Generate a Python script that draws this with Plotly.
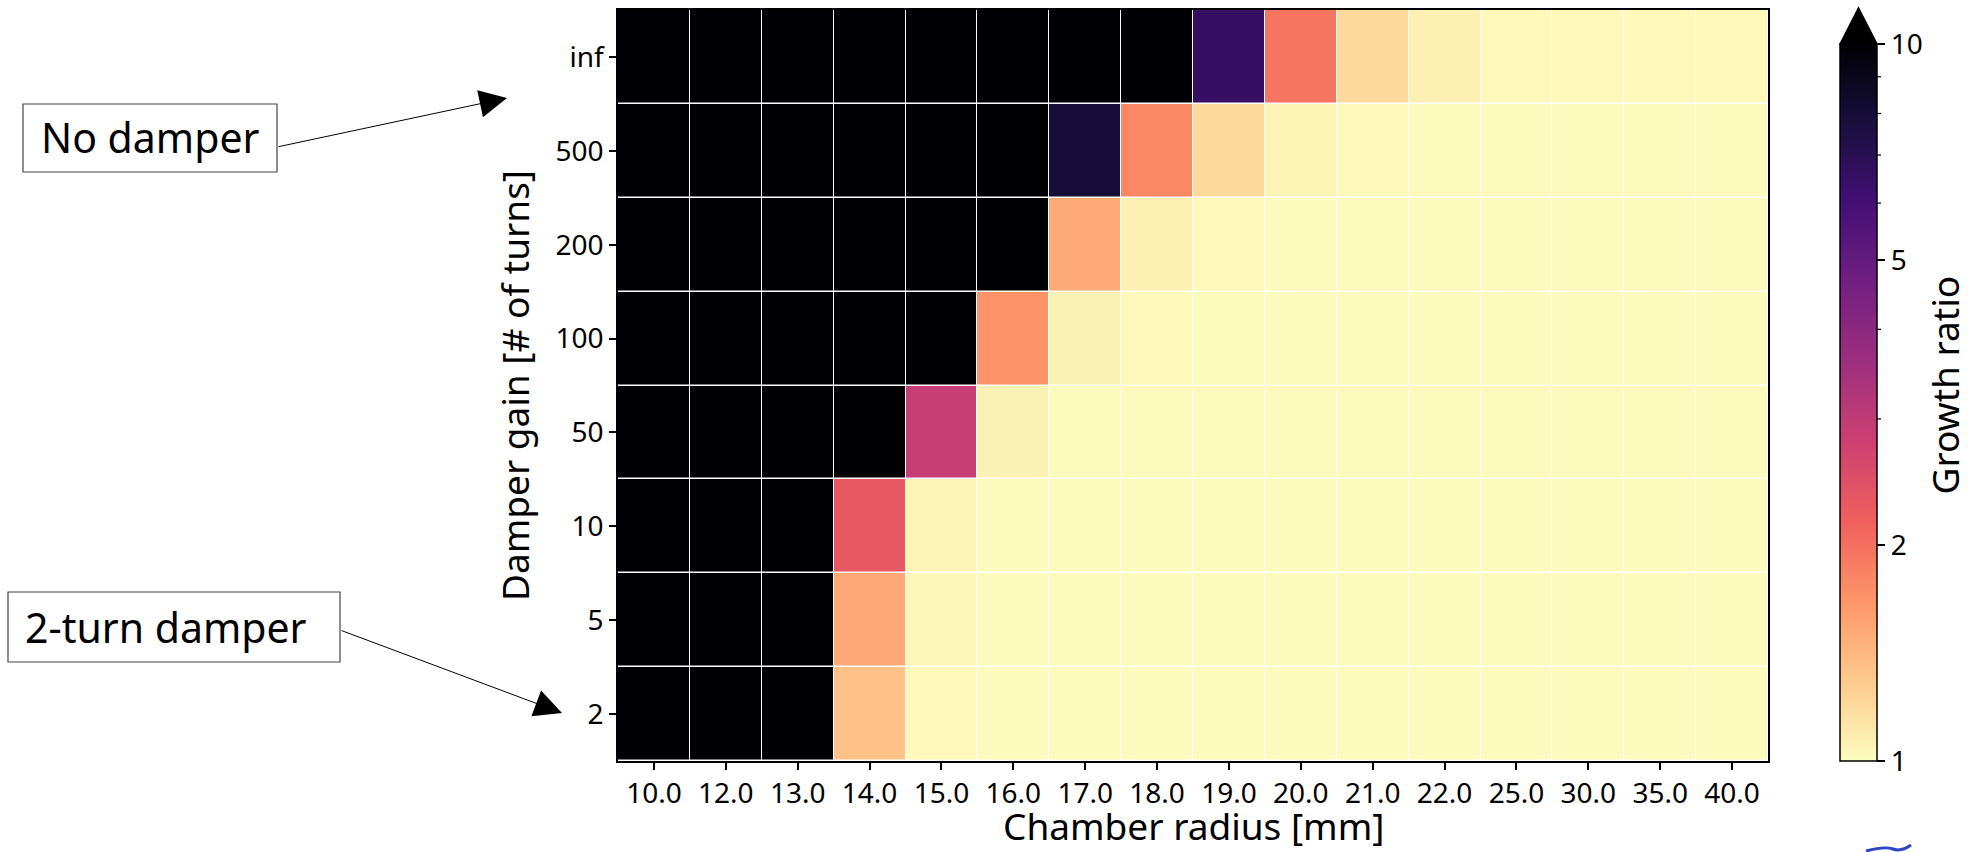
import numpy as np
import plotly.graph_objects as go

# ---------------- data ----------------
chamber_radius = ['10.0', '12.0', '13.0', '14.0', '15.0', '16.0', '17.0', '18.0',
                  '19.0', '20.0', '21.0', '22.0', '25.0', '30.0', '35.0', '40.0']
damper_gain = ['2', '5', '10', '50', '100', '200', '500', 'inf']

# growth ratio per damper gain (columns follow chamber_radius); >10 shown saturated
growth_gain_2 = [20, 20, 20, 1.35, 1.02, 1.01, 1.01, 1.01, 1.01, 1.01, 1.01, 1.01, 1.01, 1.01, 1.01, 1.01]
growth_gain_5 = [20, 20, 20, 1.52, 1.03, 1.01, 1.01, 1.01, 1.01, 1.01, 1.01, 1.01, 1.01, 1.01, 1.01, 1.01]
growth_gain_10 = [20, 20, 20, 2.3, 1.04, 1.01, 1.01, 1.01, 1.01, 1.01, 1.01, 1.01, 1.01, 1.01, 1.01, 1.01]
growth_gain_50 = [20, 20, 20, 20, 2.9, 1.06, 1.01, 1.01, 1.01, 1.01, 1.01, 1.01, 1.01, 1.01, 1.01, 1.01]
growth_gain_100 = [20, 20, 20, 20, 20, 1.7, 1.06, 1.02, 1.01, 1.01, 1.01, 1.01, 1.01, 1.01, 1.01, 1.01]
growth_gain_200 = [20, 20, 20, 20, 20, 20, 1.51, 1.07, 1.02, 1.01, 1.01, 1.01, 1.01, 1.01, 1.01, 1.01]
growth_gain_500 = [20, 20, 20, 20, 20, 20, 7.9, 1.78, 1.2, 1.05, 1.02, 1.01, 1.01, 1.01, 1.01, 1.01]
growth_gain_inf = [20, 20, 20, 20, 20, 20, 20, 20, 6.5, 1.95, 1.2, 1.07, 1.02, 1.02, 1.02, 1.02]

growth = [growth_gain_2, growth_gain_5, growth_gain_10, growth_gain_50,
          growth_gain_100, growth_gain_200, growth_gain_500, growth_gain_inf]

cbar_major = [1, 2, 5, 10]
cbar_minor = [3, 4, 6, 7, 8, 9]

# ---------------- layout geometry (pixels) ----------------
W, H = 1968, 852
PL, PR, PT, PB = 618, 1768, 10, 761          # plot area
CB_L, CB_R, CB_T = 1840, 1877, 44             # colorbar
FONT = 'Noto Sans, sans-serif'
TICK_SIZE, TITLE_SIZE, NOTE_SIZE = 28, 37, 41

pw, ph = PR - PL, PB - PT
def px2x(px):
    return (px - PL) / pw
def px2y(py):
    return (PB - py) / ph

z = np.log10(np.array(growth, dtype=float))

fig = go.Figure(go.Heatmap(
    x=chamber_radius, y=damper_gain, z=z,
    zmin=0, zmax=1,
    colorscale='Magma_r',
    xgap=1, ygap=1.5,
    colorbar=dict(
        x=px2x(CB_L), xanchor='left', xpad=0,
        y=0, yanchor='bottom', ypad=0,
        lenmode='pixels', len=PB - CB_T,
        thickness=CB_R - CB_L,
        outlinewidth=1.5, outlinecolor='black',
        tickmode='array',
        tickvals=list(np.log10(cbar_major)),
        ticktext=[str(v) for v in cbar_major],
        ticks='outside', ticklen=8, tickwidth=1.5, tickcolor='black',
        tickfont=dict(family=FONT, size=TICK_SIZE, color='black'),
    ),
    hovertemplate='r=%{x} mm<br>gain=%{y}<extra></extra>',
))

shapes = []
# minor ticks of the log colorbar
cb_len = PB - CB_T
for v in cbar_minor:
    yy = px2y(PB - cb_len * np.log10(v))
    shapes.append(dict(type='line', xref='paper', yref='paper',
                       x0=px2x(CB_R), x1=px2x(CB_R + 4), y0=yy, y1=yy,
                       line=dict(color='black', width=1.2)))
# "extend max" triangle on top of colorbar
tri = 'M {} {} L {} {} L {} {} Z'.format(
    px2x(CB_L), px2y(CB_T), px2x((CB_L + CB_R) / 2), px2y(8), px2x(CB_R), px2y(CB_T))
shapes.append(dict(type='path', xref='paper', yref='paper', path=tri,
                   fillcolor='black', line=dict(color='black', width=1.5)))
# annotation boxes
for (x0, y0, x1, y1) in [(23, 104, 277, 172), (8, 592, 340, 662)]:
    shapes.append(dict(type='rect', xref='paper', yref='paper',
                       x0=px2x(x0), x1=px2x(x1), y0=px2y(y1), y1=px2y(y0),
                       line=dict(color='#444', width=1.2), fillcolor='rgba(0,0,0,0)'))
# small blue fragment in the lower right corner of the original image
frag = 'M {} {} Q {} {} {} {} T {} {}'.format(
    px2x(1866), px2y(851), px2x(1885), px2y(846), px2x(1893), px2y(849),
    px2x(1911), px2y(845))
shapes.append(dict(type='path', xref='paper', yref='paper', path=frag,
                   line=dict(color='#2b45c4', width=3)))

annotations = [
    dict(xref='paper', yref='paper', x=px2x(150), y=px2y(137),
         xanchor='center', yanchor='middle', text='No damper', showarrow=False,
         font=dict(family=FONT, size=NOTE_SIZE, color='black')),
    dict(xref='paper', yref='paper', x=px2x(166), y=px2y(627),
         xanchor='center', yanchor='middle', text='2-turn damper', showarrow=False,
         font=dict(family=FONT, size=NOTE_SIZE, color='black')),
    # arrows
    dict(xref='paper', yref='paper', x=px2x(507), y=px2y(98), text='',
         showarrow=True, ax=277 - 507, ay=147 - 98, axref='pixel', ayref='pixel',
         arrowhead=2, arrowsize=5.5, arrowwidth=1, arrowcolor='black', standoff=0),
    dict(xref='paper', yref='paper', x=px2x(562), y=px2y(713), text='',
         showarrow=True, ax=340 - 562, ay=630 - 713, axref='pixel', ayref='pixel',
         arrowhead=2, arrowsize=5.5, arrowwidth=1, arrowcolor='black', standoff=0),
    # x-axis title (kept fully inside the canvas)
    dict(xref='paper', yref='paper', x=0.5, y=px2y(H), borderpad=0,
         xanchor='center', yanchor='bottom', text='Chamber radius [mm]',
         showarrow=False, font=dict(family=FONT, size=TITLE_SIZE, color='black')),
    # colorbar title
    dict(xref='paper', yref='paper', x=px2x(1944), y=px2y((PT + PB) / 2),
         xanchor='center', yanchor='middle', text='Growth ratio', textangle=-90,
         showarrow=False, font=dict(family=FONT, size=TITLE_SIZE, color='black')),
]

axis_common = dict(
    type='category', showline=True, linecolor='black', linewidth=1.5, mirror=True,
    ticks='outside', ticklen=7, tickwidth=1.5, tickcolor='black',
    tickfont=dict(family=FONT, size=TICK_SIZE, color='black'),
    showgrid=False, zeroline=False,
)

fig.update_layout(
    width=W, height=H,
    margin=dict(l=PL, r=W - PR, t=PT, b=H - PB, autoexpand=False),
    paper_bgcolor='white', plot_bgcolor='white',
    font=dict(family=FONT, color='black'),
    xaxis=dict(**axis_common),
    yaxis=dict(**axis_common,
               title=dict(text='Damper gain [# of turns]',
                          font=dict(family=FONT, size=TITLE_SIZE, color='black'))),
    shapes=shapes,
    annotations=annotations,
)

fig.write_html('out.html')
